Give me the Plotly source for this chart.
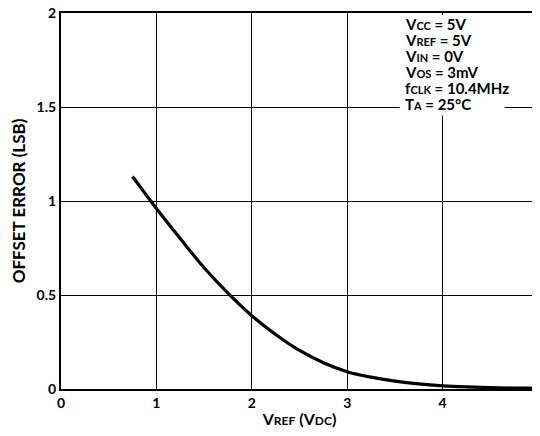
import plotly.graph_objects as go

vref = [0.75, 1.0, 1.25, 1.5, 1.75, 2.0, 2.25, 2.5, 2.75, 3.0, 3.25, 3.5, 3.75, 4.0, 4.25, 4.5, 4.75, 5.0]
offset_err = [1.13, 0.96, 0.80, 0.645, 0.51, 0.39, 0.29, 0.205, 0.14, 0.092, 0.063, 0.042, 0.027, 0.017, 0.011, 0.007, 0.005, 0.004]

x_ticks = [0, 1, 2, 3, 4, 5]
y_ticks = [0, 0.5, 1, 1.5, 2]
y_tick_labels = ["0", "0.5", "1", "1.5", "2"]

SUB = "<span style='font-size:11px'>{}</span>"
conditions = [
    "V" + SUB.format("CC") + " = 5V",
    "V" + SUB.format("REF") + " = 5V",
    "V" + SUB.format("IN") + " = 0V",
    "V" + SUB.format("OS") + " = 3mV",
    "f" + SUB.format("CLK") + " = 10.4MHz",
    "T" + SUB.format("A") + " = 25°C",
]
condition_y = [1.944, 1.858, 1.772, 1.686, 1.600, 1.514]

font_family = "Lato, Open Sans, sans-serif"

fig = go.Figure()
fig.add_trace(go.Scatter(
    x=vref, y=offset_err, mode="lines",
    line=dict(color="black", width=3.2, shape="spline", smoothing=1.0),
    showlegend=False, hoverinfo="skip",
))

# white patch behind the conditions block (interrupts gridlines as in the reference)
fig.add_shape(type="rect", xref="x", yref="y", x0=3.55, x1=4.65, y0=1.455, y1=1.99,
              fillcolor="white", line=dict(width=0), layer="above")

for txt, yy in zip(conditions, condition_y):
    fig.add_annotation(
        x=3.59, y=yy, xref="x", yref="y", xanchor="left", yanchor="middle",
        text="<b>" + txt + "</b>", showarrow=False, align="left",
        font=dict(family=font_family, size=15, color="black"),
    )

fig.update_layout(
    width=532, height=420,
    margin=dict(l=53, r=2, t=5, b=39),
    paper_bgcolor="white", plot_bgcolor="white",
    font=dict(family=font_family, size=14, color="black"),
    xaxis=dict(
        range=[0, 5], tickvals=x_ticks, ticktext=[f"<b>{v}</b>" for v in x_ticks],
        showgrid=True, gridcolor="black", gridwidth=1.3,
        showline=True, linecolor="black", linewidth=2, mirror=True,
        zeroline=False, ticks="", ticklen=0, automargin=False,
        ticklabeloverflow="allow",
        tickfont=dict(family=font_family, size=14),
        title=dict(text="<b>V<span style='font-size:12px'>REF</span> (V<span style='font-size:12px'>DC</span>)</b>",
                   standoff=8, font=dict(family=font_family, size=16)),
    ),
    yaxis=dict(
        range=[0, 2], tickvals=y_ticks, ticktext=[f"<b>{t}</b>" for t in y_tick_labels],
        showgrid=True, gridcolor="black", gridwidth=1.3,
        showline=True, linecolor="black", linewidth=2, mirror=True,
        zeroline=False, ticks="", ticklen=0, automargin=False,
        ticklabeloverflow="allow",
        tickfont=dict(family=font_family, size=14),
        title=dict(text="<b>OFFSET ERROR (LSB)</b>", standoff=10,
                   font=dict(family=font_family, size=17)),
    ),
)

fig.write_html("out.html")
